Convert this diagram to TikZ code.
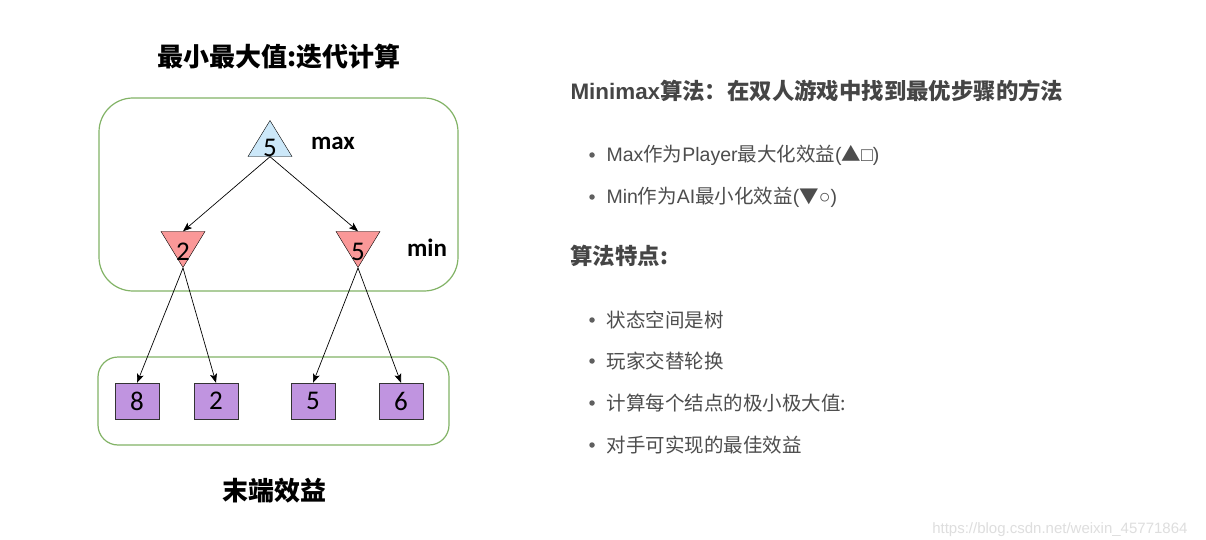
\documentclass[tikz,border=0pt]{standalone}
\usepackage{fontspec}
\setmainfont{Noto Sans CJK SC}
\newfontfamily\numfont{Carlito}
\newfontfamily\latfont{Liberation Sans}
\usetikzlibrary{arrows.meta,shapes.geometric,positioning}

\definecolor{boxgreen}{RGB}{130,179,102}
\definecolor{maxblue}{RGB}{204,232,249}
\definecolor{minred}{RGB}{250,152,152}
\definecolor{leafpurple}{RGB}{192,148,224}
\definecolor{txtgray}{RGB}{77,77,77}
\definecolor{markgray}{RGB}{222,222,222}

\begin{document}
\begin{tikzpicture}[x=1pt, y=-1pt,
    tri/.style={isosceles triangle, isosceles triangle stretches, draw=black,
      minimum width=44pt, minimum height=36pt, inner sep=0pt},
    maxtri/.style={tri, shape border rotate=90, fill=maxblue,
      label={[numtext, yshift=-4pt]center:#1}},
    mintri/.style={tri, shape border rotate=270, fill=minred,
      label={[numtext, yshift=-8pt]center:#1}},
    numtext/.style={inner sep=0pt, font=\numfont\fontsize{27}{27}\selectfont},
    leaf/.style={draw=black!80, fill=leafpurple, minimum width=44pt, minimum height=36pt,
      inner sep=0pt, font=\numfont\fontsize{27}{27}\selectfont},
    groupbox/.style={draw=boxgreen, line width=1.2pt},
    edge/.style={-{Stealth[length=9pt,width=7pt,inset=2pt]}, line width=0.7pt},
    tag/.style={font=\numfont\bfseries\fontsize{25}{25}\selectfont},
    bigtitle/.style={font=\bfseries\fontsize{26}{26}\selectfont},
    point/.style={circle, fill=txtgray!90, inner sep=0pt, minimum size=5.5pt},
    item/.style={anchor=west, text=txtgray, font=\fontsize{19.5}{19.5}\selectfont},
    head/.style={anchor=west, text=txtgray!90!black, font=\bfseries\fontsize{22.4}{22.4}\selectfont}]

    \fill[white] (0,0) rectangle (1206,540);
    \useasboundingbox (0,0) rectangle (1206,540);

    % left: the tree
    \node[bigtitle] (ttl) at (279,57) {最小最大值:迭代计算};
    \draw[groupbox, rounded corners=34pt] (99,98) rectangle (458,291);
    \draw[groupbox, rounded corners=20pt] (98,357) rectangle (449,445);

    \node[maxtri=5, anchor=apex] (root) at (270,120) {};
    \node[mintri=2, anchor=apex] (minl) at (183,268) {};
    \node[mintri=5, anchor=apex] (minr) at (358,268) {};
    \node[tag] (maxtag) at (333,143) {max};
    \node[tag] (mintag) at (427,248) {min};

    \node[leaf] (l1) at (137,401) {8};
    \node[leaf] (l2) at (216,401) {2};
    \node[leaf] (l3) at (313,401) {5};
    \node[leaf] (l4) at (401,401) {6};

    \draw[edge] (root.lower side) -- (minl.lower side);
    \draw[edge] (root.lower side) -- (minr.lower side);
    \foreach \a/\b in {minl/l1, minl/l2, minr/l3, minr/l4} {
        \draw[edge] (\a.apex) -- (\b.north);
    }

    \node[bigtitle] (leafttl) at (274,491) {末端效益};

    % right: the notes
    \node[head] (h1) at (567,91) {{\latfont Minimax}算法：在双人游戏中找到最优步骤的方法};
    \node[point] (p1) at (592,155) {};
    \node[item] (t1) at (603,155) {{\latfont Max}作为{\latfont Player}最大化效益{\latfont (}▲{\latfont □)}};
    \node[point] (p2) at (592,197) {};
    \node[item] (t2) at (603,197) {{\latfont Min}作为{\latfont AI}最小化效益{\latfont (}▼{\latfont ○)}};

    \node[head] (h2) at (567,256) {算法特点:};
    \node[point] (p3) at (592,320) {};
    \node[item] (t3) at (603,320) {状态空间是树};
    \node[point] (p4) at (592,361) {};
    \node[item] (t4) at (603,361) {玩家交替轮换};
    \node[point] (p5) at (592,403) {};
    \node[item] (t5) at (603,403) {计算每个结点的极小极大值:};
    \node[point] (p6) at (592,445) {};
    \node[item] (t6) at (603,445) {对手可实现的最佳效益};

    \node[anchor=east, text=markgray, font=\latfont\fontsize{15}{15}\selectfont] (mark) at (1191,530)
        {https://blog.csdn.net/weixin\_45771864};
\end{tikzpicture}
\end{document}
